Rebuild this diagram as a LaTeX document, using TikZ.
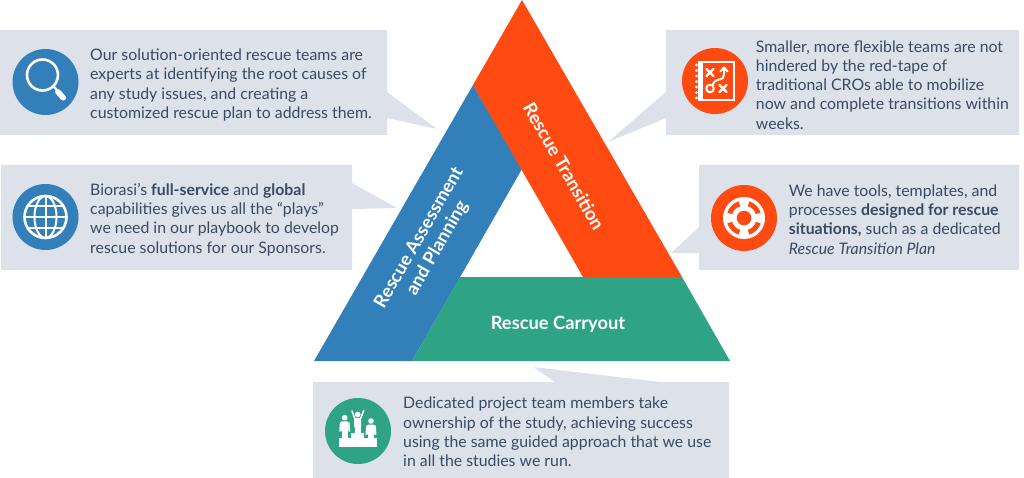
\documentclass[tikz,border=0pt]{standalone}
\usepackage{fontspec}
\setmainfont{Lato}
\definecolor{boxbg}{HTML}{DCE1EA}
\definecolor{txt}{HTML}{3A4A60}
\definecolor{cblue}{HTML}{337FB9}
\definecolor{corange}{HTML}{FF4A12}
\definecolor{cgreen}{HTML}{2EA385}
\tikzset{
  para/.style={anchor=west,align=left,inner sep=0pt,text=txt,font=\fontsize{15.85}{19.2}\selectfont},
  bandlabel/.style={align=center,inner sep=0pt,text=white,font=\fontsize{18.3}{21}\selectfont\bfseries},
  panel/.style={fill=boxbg},
  ink/.style={draw=white,line width=#1,line cap=round,line join=round},
  ink/.default=2.6pt,
}
\newcommand{\standfig}[3]{% x, head y, foot y
  \fill[white] (#1,#2) circle (2.8);
  \fill[white,rounded corners=1.2pt] (#1-4,#2+3.6) rectangle (#1+4,#2+14);
  \fill[white] (#1-2.8,#2+12) rectangle (#1-0.2,#3);
  \fill[white] (#1+0.2,#2+12) rectangle (#1+2.8,#3);
  \draw[white,line width=1.3pt,line cap=round] (#1-4.2,#2+5) -- (#1-4.8,#2+13.5);
  \draw[white,line width=1.3pt,line cap=round] (#1+4.2,#2+5) -- (#1+4.8,#2+13.5);
}
\begin{document}
\begin{tikzpicture}[x=1pt,y=-1pt]
\useasboundingbox (0,0) rectangle (1024,478);
% panels with pointers
\fill[panel] (0,30) -- (387,30) -- (387,92) -- (437,129) -- (387,118) -- (387,135) -- (0,135) -- cycle;
\fill[panel] (1,165) -- (352,165) -- (352,183) -- (397,208) -- (352,209) -- (352,270) -- (1,270) -- cycle;
\fill[panel] (666,30) -- (1019,30) -- (1019,135) -- (666,135) -- (666,118) -- (608,142) -- (666,92) -- cycle;
\fill[panel] (699,165) -- (1019,165) -- (1019,270) -- (699,270) -- (699,253) -- (671,253) -- (699,227) -- cycle;
\fill[panel] (313,382) -- (555,382) -- (533,367) -- (660,382) -- (729,382) -- (729,478) -- (313,478) -- cycle;
% triangle
\fill[cblue] (473,85) -- (522,169) -- (412,361) -- (314,361) -- cycle;
\fill[corange] (522,0) -- (682,277) -- (583,277) -- (473,85) -- cycle;
\fill[cgreen] (460,277) -- (682,277) -- (730,361) -- (412,361) -- cycle;
% band labels
\node[bandlabel,rotate=-60] (ltrans) at (564,166) {Rescue Transition};
\node[bandlabel,rotate=60] (lassess) at (428.5,243) {Rescue Assessment\\and Planning};
\node[bandlabel] (lcarry) at (558,324) {Rescue Carryout};
% texts
\node[para] (t1) at (90,85) {Our solution-oriented rescue teams are\\experts at identifying the root causes of\\any study issues, and creating a\\customized rescue plan to address them.};
\node[para] (t2) at (90,219.5) {Biorasi’s \textbf{full-service} and \textbf{global}\\capabilities gives us all the “plays”\\we need in our playbook to develop\\rescue solutions for our Sponsors.};
\node[para] (t3) at (755.7,85) {Smaller, more flexible teams are not\\hindered by the red-tape of\\traditional CROs able to mobilize\\now and complete transitions within\\weeks.};
\node[para] (t4) at (788.7,219.5) {We have tools, templates, and\\processes \textbf{designed for rescue}\\\textbf{situations,} such as a dedicated\\\textit{Rescue Transition Plan}};
\node[para] (t5) at (403,432) {Dedicated project team members take\\ownership of the study, achieving success\\using the same guided approach that we use\\in all the studies we run.};
% icon discs
\fill[cblue] (45.5,82) circle (33);
\fill[cblue] (45.5,217) circle (33);
\fill[corange] (715,81) circle (33);
\fill[corange] (744,218) circle (33);
\fill[cgreen] (358,431) circle (33);
% magnifier
\draw[ink] (42.5,75) circle (15.5);
\draw[ink=2.2pt] (53.5,86.5) -- (57,90);
\draw[ink=5.5pt] (57.8,91.8) -- (63.3,97.8);
% globe
\begin{scope}[shift={(45.5,217)}]
\draw[ink] (0,0) circle (21);
\draw[ink=2pt] (0,0) ellipse (11 and 21);
\draw[ink=2pt] (0,-21) -- (0,21);
\draw[ink=2pt] (-21,0) -- (21,0);
\draw[ink=2pt] (-17.8,-11) -- (17.8,-11);
\draw[ink=2pt] (-17.8,11) -- (17.8,11);
\end{scope}
% playbook
\draw[white,line width=2.4pt] (699.5,62) rectangle (734,100);
\fill[white] (698,61) rectangle (702.5,101);
\foreach \yy in {65,70.5,76,81.5,87,92.5,98} \fill[white] (696.3,\yy) circle (1.5);
\draw[ink=2.2pt] (706.5,69) -- (713.5,76) (713.5,69) -- (706.5,76);
\draw[ink=2.2pt] (719.5,85) -- (726.5,92) (726.5,85) -- (719.5,92);
\draw[ink=2pt] (710,88.5) circle (3.8);
\draw[ink=2pt] (712.5,85.5) .. controls (714,81) and (716,80) .. (719,79.5) .. controls (723,79) and (724,77) .. (724,74) -- (724,68);
\draw[ink=2pt] (720.3,71.5) -- (724,67.5) -- (727.7,71.5);
% lifebuoy
\begin{scope}[shift={(744,218)}]
\fill[white] (0,0) circle (21);
\foreach \aa in {0,90,180,270} \fill[corange] (\aa+18:12.5) arc[start angle=\aa+18,end angle=\aa+72,radius=12.5] -- (\aa+72:17.5) arc[start angle=\aa+72,end angle=\aa+18,radius=17.5] -- cycle;
\fill[corange] (0,0) circle (7.3);
\end{scope}
% podium
\fill[white] (338.7,438.3) rectangle (377,446.7);
\fill[white] (351.3,433.3) rectangle (363.7,439);
\standfig{344.7}{417.7}{438.5}
\standfig{371}{421}{438.5}
\fill[white] (357.7,414.5) circle (2.8);
\fill[white,rounded corners=1.2pt] (354.2,418) rectangle (361.2,428);
\fill[white] (354.7,426) rectangle (360.7,433.5);
\draw[white,line width=1.6pt,line cap=round] (355,419) -- (352,411);
\draw[white,line width=1.6pt,line cap=round] (360.4,419) -- (363.7,410.5);
\end{tikzpicture}
\end{document}
